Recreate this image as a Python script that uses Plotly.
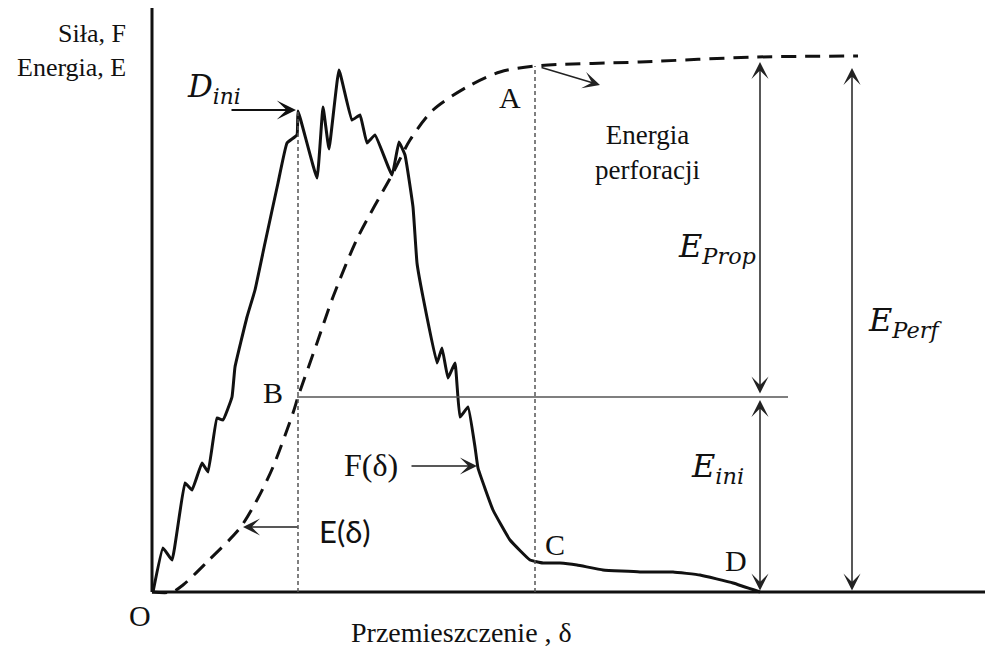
import plotly.graph_objects as go

# Data (units: displacement / force-energy, origin at O)
force_x = [1, 11, 20, 33, 40, 50, 56, 65, 71, 80, 83, 95, 103, 113, 126, 135, 145, 146,
           165, 171, 177, 187, 200, 208, 215, 223, 240, 247, 253, 261, 265, 271, 285, 290,
           296, 303, 308, 316, 323, 326, 341, 358, 378, 391, 408, 425, 451, 488, 521, 548, 581, 608]
force_y = [0, 44, 32, 109, 102, 129, 120, 174, 172, 195, 225, 275, 302, 349, 409, 449, 457, 481,
           414, 485, 443, 522, 472, 477, 449, 457, 417, 450, 437, 385, 329, 295, 229, 244,
           214, 229, 175, 185, 145, 124, 82, 52, 32, 29, 29, 27, 22, 20, 20, 17, 9, 0]

energy_x = [0, 20, 31, 55, 88, 105, 121, 141, 146, 165, 181, 206, 241, 258, 281, 315, 348, 383, 488, 605, 706]
energy_y = [0, 0, 7, 30, 64, 92, 125, 179, 195, 249, 295, 355, 419, 452, 482, 505, 520, 526, 530, 535, 536]

x_dini, y_dini = 146, 481      # D_ini point
x_A, y_A = 383, 526            # A point
y_B = 195                      # B level (energy at D_ini)
x_D = 608                      # D point
x_perf = 700                   # E_Perf arrow position
x_max, y_top = 833, 584

fig = go.Figure()

fig.add_trace(go.Scatter(x=force_x, y=force_y, mode="lines",
                         line=dict(color="#111", width=3, shape="spline", smoothing=0.3),
                         hoverinfo="skip"))
fig.add_trace(go.Scatter(x=energy_x, y=energy_y, mode="lines",
                         line=dict(color="#111", width=3, shape="spline", smoothing=0.8, dash="15px,9px"),
                         hoverinfo="skip"))

shapes = [
    dict(type="line", x0=0, y0=0, x1=0, y1=y_top, line=dict(color="#111", width=3)),
    dict(type="line", x0=0, y0=0, x1=x_max, y1=0, line=dict(color="#111", width=3)),
    dict(type="line", x0=x_dini, y0=0, x1=x_dini, y1=y_dini, line=dict(color="#555", width=1.5, dash="4px,3px")),
    dict(type="line", x0=x_A, y0=0, x1=x_A, y1=y_A, line=dict(color="#555", width=1.5, dash="4px,3px")),
    dict(type="line", x0=x_dini - 1, y0=y_B, x1=636, y1=y_B, line=dict(color="#555", width=1.5)),
]

serif = "Liberation Serif, Times New Roman, serif"
math = "DejaVu Serif, serif"

def txt(x, y, s, size=26, family=serif, xanchor="center", align="center"):
    return dict(x=x, y=y, xref="x", yref="y", text=s, showarrow=False,
                font=dict(family=family, size=size, color="#111"),
                xanchor=xanchor, yanchor="middle", align=align)

def arrow(x, y, ax, ay, width=1.5, size=1.9, side="end", color="#222"):
    return dict(x=x, y=y, ax=ax, ay=ay, xref="x", yref="y", axref="x", ayref="y",
                text="", showarrow=True, arrowhead=3, arrowsize=size, arrowwidth=width,
                arrowcolor=color, arrowside=side, startarrowhead=3, startarrowsize=size,
                standoff=0, startstandoff=0)

ann = [
    txt(-24, 559, "Siła, F", xanchor="right"),
    txt(-24, 525, "Energia, E", xanchor="right"),
    txt(-12, -23, "O", size=30),
    txt(309, -40, "Przemieszczenie , δ", size=28),
    txt(62, 504, "<i>D<sub>ini</sub></i>", size=31, family=math),
    txt(358, 495, "A", size=30),
    txt(495, 440, "Energia<br>perforacji", size=27),
    txt(565, 344, "<i>E<sub>Prop</sub></i>", size=32, family=math),
    txt(753, 270, "<i>E<sub>Perf</sub></i>", size=32, family=math),
    txt(565, 124, "<i>E<sub>ini</sub></i>", size=32, family=math),
    txt(121, 200, "B", size=30),
    txt(403, 48, "C", size=30),
    txt(584, 32, "D", size=30),
    txt(219, 127, "F(δ)", size=32),
    txt(193, 61, "E(δ)", size=31, family="Lato, sans-serif"),
    arrow(144, 482, 78, 482, width=2, size=1.6, color="#111"),
    arrow(448, 507, 388, 525),
    arrow(325, 126, 258, 126),
    arrow(91, 65, 147, 65),
    arrow(x_D, 530, x_D, 197, side="end+start"),
    arrow(x_D, 192, x_D, 0, side="end+start"),
    arrow(x_perf, 524, x_perf, 0, side="end+start"),
]

fig.update_layout(
    width=985, height=648, margin=dict(l=0, r=0, t=0, b=0),
    paper_bgcolor="white", plot_bgcolor="white", showlegend=False,
    xaxis=dict(range=[-152, 833], visible=False, fixedrange=True),
    yaxis=dict(range=[-56, 592], visible=False, fixedrange=True),
    shapes=shapes, annotations=ann,
)

fig.write_html("out.html")
